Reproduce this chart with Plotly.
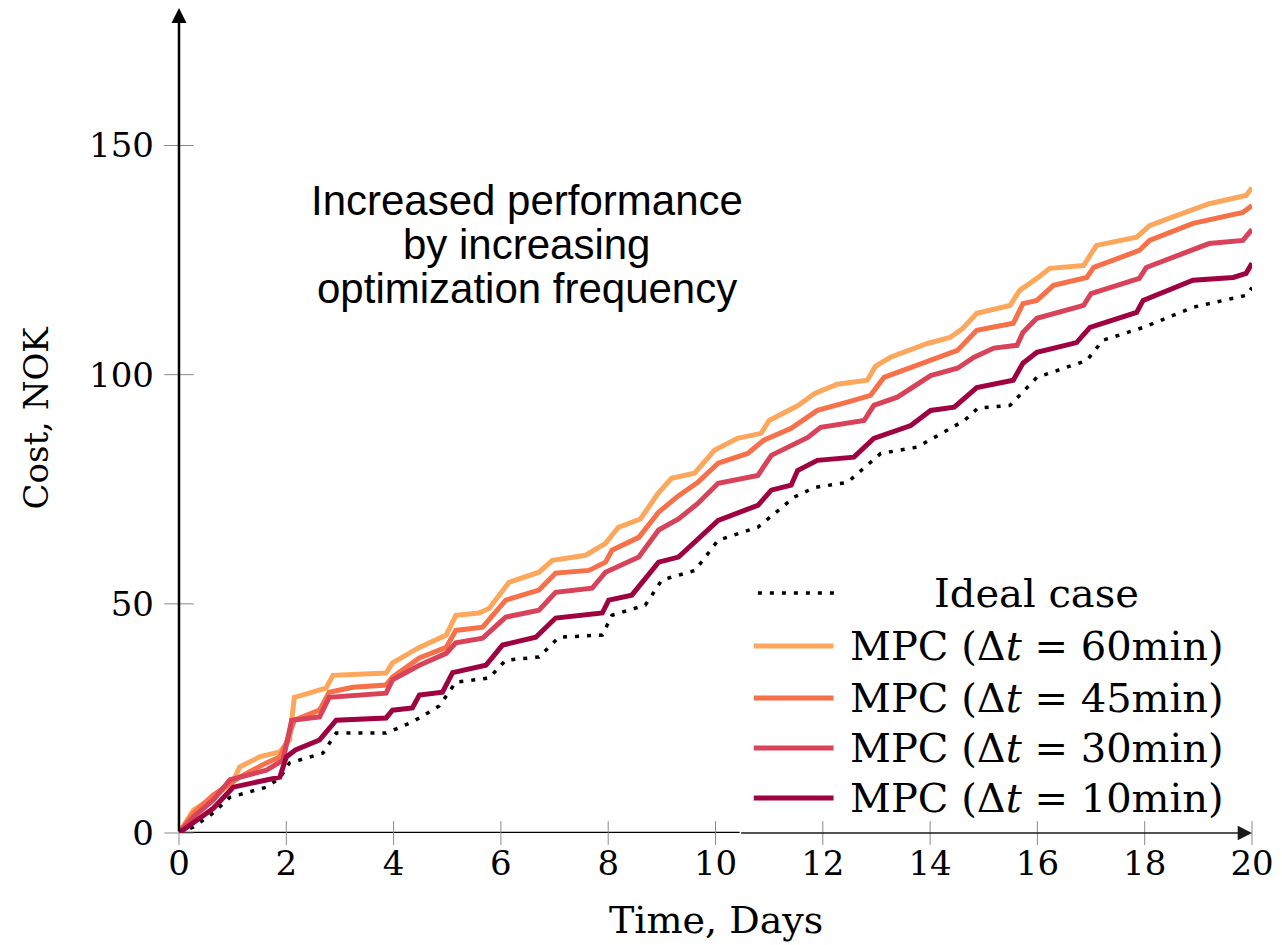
import plotly.graph_objects as go

# Cumulative operating cost (NOK) over the 20-day simulation
days_ideal = [0, 0.27, 0.64, 0.95, 1.63, 1.88, 2.06, 2.68, 2.93, 3.86, 4.35, 4.85, 5.16, 5.78,
              6.09, 6.71, 7.08, 7.89, 8.07, 8.69, 9.0, 9.62, 10.05, 10.79, 11.47, 11.85, 12.46,
              13.08, 13.76, 14.64, 14.89, 15.49, 15.99, 16.92, 17.22, 17.97, 18.9, 19.89, 20]
cost_ideal = [0, 1.3, 4.4, 7.8, 10, 12, 15.3, 17.4, 21.8, 21.8, 24.2, 27.7, 32.9, 33.8,
              37.7, 38.4, 42.7, 43.2, 47.5, 49.7, 55.2, 57.3, 63.9, 66.7, 73.3, 75.4, 76.5,
              82.8, 84.2, 90, 92.7, 93.3, 99.4, 103.1, 107.5, 110.3, 114.7, 117.3, 119]

days_60 = [0, 0.27, 0.64, 1.0, 1.13, 1.5, 1.88, 2.06, 2.15, 2.74, 2.87, 3.86, 3.98, 4.48, 4.98,
           5.16, 5.59, 5.78, 6.15, 6.71, 6.96, 7.58, 7.95, 8.19, 8.6, 8.93, 9.18, 9.61, 9.98,
           10.41, 10.85, 11.0, 11.53, 11.85, 12.27, 12.83, 12.98, 13.26, 13.95, 14.37, 14.6,
           14.87, 15.49, 15.67, 15.99, 16.23, 16.86, 17.1, 17.85, 18.09, 18.59, 19.2, 19.89, 20]
cost_60 = [0, 5, 7.8, 11, 14.4, 16.6, 17.7, 20.3, 29.6, 31.6, 34.4, 34.9, 37.1, 40.5, 43.2,
           47.5, 48, 49, 54.7, 56.9, 59.5, 60.6, 63.2, 66.7, 68.5, 74.1, 77.4, 78.5, 83.5,
           86.1, 87.2, 90, 93.2, 95.9, 97.9, 98.8, 101.8, 103.8, 106.8, 108.1, 110,
           113.4, 115.1, 118.4, 121, 123.2, 123.8, 128.2, 130, 132.5, 134.7, 137.3, 139.1, 140.8]

days_45 = [0, 0.27, 0.64, 1.13, 1.63, 1.88, 2.0, 2.15, 2.62, 2.8, 3.24, 3.86, 3.98, 4.48, 4.98,
           5.16, 5.66, 6.09, 6.71, 7.02, 7.64, 7.95, 8.07, 8.57, 8.94, 9.3, 9.67, 10.05, 10.6,
           10.9, 11.41, 11.9, 12.46, 12.89, 13.14, 13.89, 14.51, 14.87, 15.55, 15.73, 15.99,
           16.3, 16.92, 17.05, 17.9, 18.09, 18.9, 19.83, 20]
cost_45 = [0, 4.4, 8.3, 12.2, 15.3, 16.6, 19.6, 24.6, 26.8, 30.7, 31.8, 32.3, 34, 38.2, 40.5,
           44.2, 44.9, 50.8, 53, 56.7, 57.3, 59.1, 61.7, 64.5, 70, 73.5, 76.5, 80.7, 82.8,
           85.7, 88.3, 92.2, 94, 95.5, 99.4, 102.5, 105.3, 109.7, 111.2, 115.5, 116.2,
           119.5, 121.2, 123.4, 127.1, 129.3, 133, 135.4, 136.9]

days_30 = [0, 0.27, 0.64, 0.95, 1.63, 1.94, 2.1, 2.62, 2.8, 3.86, 3.98, 4.48, 4.98, 5.16, 5.66,
           6.09, 6.71, 7.02, 7.7, 7.95, 8.57, 8.94, 9.31, 9.67, 10.05, 10.79, 11.04, 11.72,
           11.96, 12.77, 12.95, 13.39, 14.01, 14.51, 14.82, 15.19, 15.62, 15.73, 15.99, 16.86,
           17.0, 17.9, 18.03, 18.83, 19.2, 19.83, 20]
cost_30 = [0, 3.5, 7.2, 11.6, 13.7, 15.9, 24.6, 25.3, 29.6, 30.5, 33.4, 36.6, 39.2, 41.5, 42.5,
           47.1, 48.6, 52.5, 53.4, 56.9, 60.2, 66.1, 68.5, 71.9, 76.3, 78, 82.4, 86.3,
           88.5, 90, 93.3, 95.1, 99.8, 101.4, 103.8, 105.8, 106.4, 109.2, 112.3, 115.1,
           117.7, 121, 123.4, 127.1, 128.6, 129.3, 131.7]

days_10 = [0, 0.27, 0.64, 1.01, 1.5, 1.88, 2.0, 2.17, 2.62, 2.93, 3.86, 3.98, 4.35, 4.48, 4.91,
           5.1, 5.72, 6.03, 6.65, 7.02, 7.89, 8.01, 8.44, 8.94, 9.31, 9.56, 9.93, 10.05, 10.79,
           11.04, 11.41, 11.53, 11.9, 12.58, 12.95, 13.64, 14.01, 14.45, 14.87, 15.55, 15.73,
           15.99, 16.73, 16.98, 17.85, 17.97, 18.9, 19.65, 19.89, 20]
cost_10 = [0, 2.2, 5.4, 10, 11.1, 12.2, 16.6, 18.1, 20.3, 24.6, 25.1, 26.8, 27.3, 30.1, 30.7,
           35, 36.6, 41, 42.7, 46.9, 48, 50.8, 51.9, 59.1, 60.2, 62.8, 66.7, 68.2, 71.5,
           74.8, 75.9, 79.1, 81.3, 82, 86.1, 88.9, 92.2, 92.9, 97.2, 98.8, 102.5,
           104.9, 107, 110.3, 113.6, 116.2, 120.6, 121.2, 122.1, 124.3]

series_names = ["Ideal case", "MPC (Δ<i>t</i> = 60min)", "MPC (Δ<i>t</i> = 45min)",
                "MPC (Δ<i>t</i> = 30min)", "MPC (Δ<i>t</i> = 10min)"]
x_ticks = [0, 2, 4, 6, 8, 10, 12, 14, 16, 18, 20]
y_ticks = [0, 50, 100, 150]

colors = ["#000000", "#FDA75C", "#F6714A", "#D9435A", "#9E0240"]
series = [(days_ideal, cost_ideal), (days_60, cost_60), (days_45, cost_45),
          (days_30, cost_30), (days_10, cost_10)]

SERIF = "DejaVu Serif"
DOTS = "4px,8px"
fig = go.Figure()

# tick marks crossing the axes
fig.add_trace(go.Scatter(x=x_ticks, y=[0] * len(x_ticks), mode="markers", cliponaxis=False,
                         hoverinfo="skip", showlegend=False,
                         marker=dict(symbol="line-ns", size=17,
                                     line=dict(width=1, color="#8a8a8a"))))
fig.add_trace(go.Scatter(x=[0] * len(y_ticks), y=y_ticks, mode="markers", cliponaxis=False,
                         hoverinfo="skip", showlegend=False,
                         marker=dict(symbol="line-ew", size=21,
                                     line=dict(width=1, color="#8a8a8a"))))

for i, ((dx, cy), name, col) in enumerate(zip(series, series_names, colors)):
    if i == 0:
        line = dict(color=col, width=3.5, dash=DOTS)
    else:
        line = dict(color=col, width=5)
    fig.add_trace(go.Scatter(x=dx, y=cy, mode="lines", name=name, line=line,
                             showlegend=False, cliponaxis=False))

# hand-built legend: long line samples and centred labels
legend_rows = [0.2909, 0.2267, 0.1636, 0.1030, 0.0424]
for i, (name, col) in enumerate(zip(series_names, colors)):
    yy = legend_rows[i]
    if i == 0:
        fig.add_shape(type="line", xref="paper", yref="paper", x0=0.5395, x1=0.6156,
                      y0=yy, y1=yy, line=dict(color=col, width=3.5, dash=DOTS))
    else:
        fig.add_shape(type="line", xref="paper", yref="paper", x0=0.5357, x1=0.6100,
                      y0=yy, y1=yy, line=dict(color=col, width=5))
    fig.add_annotation(xref="paper", yref="paper", x=0.7994, y=yy, text=name,
                       showarrow=False, xanchor="center", yanchor="middle",
                       font=dict(family=SERIF, size=40, color="black"))

# axes: thick x segment, thin arrowed remainder, arrowed y axis
fig.add_shape(type="line", xref="x", yref="y", x0=0, x1=10.45, y0=0, y1=0,
              line=dict(color="black", width=2.5), layer="below")
fig.add_annotation(x=20, y=0, ax=10.45, ay=0, axref="x", ayref="y", xref="x", yref="y",
                   text="", showarrow=True, arrowhead=2, arrowsize=2.2, arrowwidth=1.3,
                   arrowcolor="#1a1a1a")
fig.add_annotation(x=0, y=180, ax=0, ay=0, axref="x", ayref="y", xref="x", yref="y",
                   text="", showarrow=True, arrowhead=2, arrowsize=1.2, arrowwidth=2.5,
                   arrowcolor="black")

# note on the chart
note_lines = ["Increased performance", "by increasing", "optimization frequency"]
for txt, yv in zip(note_lines, [138.1, 128.3, 118.7]):
    fig.add_annotation(x=6.48, y=yv, text=txt, showarrow=False, xanchor="center",
                       yanchor="middle",
                       font=dict(family="Liberation Sans, Arial", size=42, color="black"))

# axis titles
fig.add_annotation(xref="paper", yref="paper", x=0.5, y=(833 - 920) / 825, text="Time, Days",
                   showarrow=False, xanchor="center", yanchor="middle",
                   font=dict(family=SERIF, size=38, color="black"))
fig.add_annotation(xref="paper", yref="paper", x=(35 - 179) / 1077, y=(833 - 418) / 825,
                   text="Cost, NOK", textangle=-90, showarrow=False, xanchor="center",
                   yanchor="middle", font=dict(family=SERIF, size=34, color="black"))

fig.update_layout(
    width=1282, height=945, autosize=False,
    margin=dict(l=179, r=26, t=8, b=112, pad=0),
    paper_bgcolor="white", plot_bgcolor="white",
    showlegend=False,
    xaxis=dict(range=[0, 20], tickvals=x_ticks, ticktext=[str(v) for v in x_ticks],
               showgrid=False, zeroline=False, showline=False, ticks="",
               ticklabelstandoff=7,
               tickfont=dict(family=SERIF, size=34, color="black")),
    yaxis=dict(range=[0, 180], tickvals=y_ticks, ticktext=[str(v) for v in y_ticks],
               showgrid=False, zeroline=False, showline=False, ticks="",
               ticklabelstandoff=24,
               tickfont=dict(family=SERIF, size=34, color="black")),
)

fig.write_html("out.html")
